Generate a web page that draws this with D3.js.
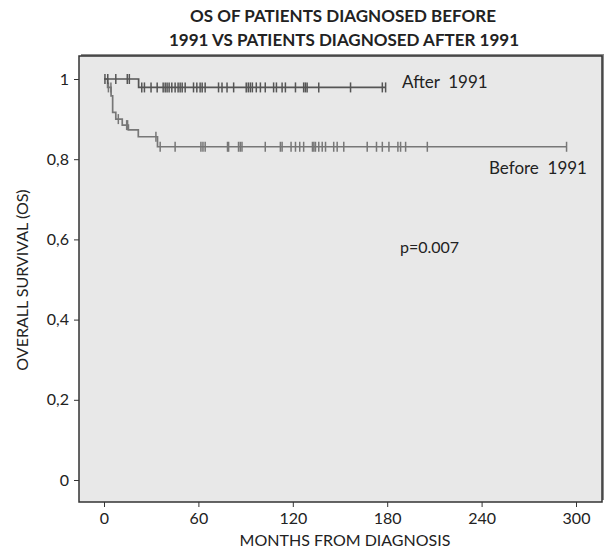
<!DOCTYPE html>
<html>
<head>
<meta charset="utf-8">
<script src="https://cdn.jsdelivr.net/npm/d3@7"></script>
<style>
  body { margin: 0; background: #fff; }
  text { font-family: Lato, "Open Sans", sans-serif; fill: #222; }
</style>
</head>
<body>
<div id="chart"></div>
<script>
// survival steps: month of event, survival after it
const beforeStepMonths = [0, 2.3, 4.5, 5.5, 7.5, 11.6, 15.5, 21.8, 34];
const beforeStepValues = [1, 0.979, 0.958, 0.917, 0.90, 0.885, 0.873, 0.856, 0.831];
const beforeCensored = [2.8, 4.4, 9.1, 14.4, 15.0, 33, 35.7, 45.2, 61.6, 62.9, 64.3, 78.5, 79.2,
  85.5, 86.6, 87.7, 102.5, 112.1, 113.2, 118.9, 121.7, 124.4, 126.9, 132.5, 133.4, 134.4, 136.5,
  138.7, 140.8, 146, 148.2, 152.4, 167.3, 173.2, 176.9, 181.1, 186.8, 188.5, 191.7, 205.5, 294];

const afterStepMonths = [0, 22];
const afterStepValues = [1, 0.979];
const afterCensored = [0.6, 2.4, 7.5, 14.8, 16.1, 24, 25.7, 29.9, 33.8, 37.6, 38.9, 40.1, 41.4, 43.1,
  45.2, 47.1, 48.4, 49.7, 51.6, 56.9, 59, 61.1, 62.4, 64.3, 72.8, 75, 78.2, 82.4, 90.4, 91.7, 93,
  94.3, 96.8, 99.4, 102.5, 107.8, 109.6, 113.2, 115.3, 121.7, 126.9, 128, 129.1, 136.5, 156.7, 176.9, 179];

const xTicks = [0, 60, 120, 180, 240, 300];
const yTicks = [0, 0.2, 0.4, 0.6, 0.8, 1];
const yTickLabels = ["0", "0,2", "0,4", "0,6", "0,8", "1"];

const width = 608, height = 550;
const box = { left: 79, top: 56, right: 602, bottom: 502 };

const svg = d3.select("#chart").append("svg")
    .attr("width", width)
    .attr("height", height);

const x = d3.scaleLinear().domain([0, 300]).range([104, 576]);
const y = d3.scaleLinear().domain([0, 1]).range([480, 79]);

// plot background + frame with a slight shadow
svg.append("rect")
    .attr("x", box.left + 2).attr("y", box.top - 2)
    .attr("width", box.right - box.left).attr("height", box.bottom - box.top)
    .attr("fill", "#8a8a8a");
svg.append("rect")
    .attr("x", box.left).attr("y", box.top)
    .attr("width", box.right - box.left).attr("height", box.bottom - box.top)
    .attr("fill", "#e8e8e8")
    .attr("stroke", "#333").attr("stroke-width", 1.5);

// axes
const xAxis = d3.axisBottom(x).tickValues(xTicks).tickSize(5).tickPadding(6);
const gx = svg.append("g").attr("transform", `translate(0,${box.bottom})`).call(xAxis);
gx.select(".domain").remove();
gx.selectAll("line").attr("stroke", "#333");
gx.selectAll("text").style("font-size", "16px").attr("fill", "#222");

const yAxis = d3.axisLeft(y).tickValues(yTicks).tickSize(5).tickPadding(5)
    .tickFormat((d, i) => yTickLabels[i]);
const gy = svg.append("g").attr("transform", `translate(${box.left},0)`).call(yAxis);
gy.select(".domain").remove();
gy.selectAll("line").attr("stroke", "#333");
gy.selectAll("text").style("font-size", "16px").attr("fill", "#222");

// survival curves
function survivalAt(months, values, t) {
    let s = values[0];
    months.forEach((m, i) => { if (t >= m) s = values[i]; });
    return s;
}

function drawCurve(months, values, censored, color) {
    const end = d3.max(censored);
    const pts = months.map((m, i) => [m, values[i]]);
    pts.push([end, values[values.length - 1]]);
    svg.append("path")
        .attr("d", d3.line().x(d => x(d[0])).y(d => y(d[1])).curve(d3.curveStepAfter)(pts))
        .attr("fill", "none")
        .attr("stroke", color)
        .attr("stroke-width", 1.7);
    svg.append("g").selectAll("line")
        .data(censored)
        .join("line")
        .attr("x1", d => x(d)).attr("x2", d => x(d))
        .attr("y1", d => y(survivalAt(months, values, d)) - 5)
        .attr("y2", d => y(survivalAt(months, values, d)) + 5)
        .attr("stroke", color)
        .attr("stroke-width", 1.5);
}

drawCurve(beforeStepMonths, beforeStepValues, beforeCensored, "#777");
drawCurve(afterStepMonths, afterStepValues, afterCensored, "#555");

// labels
svg.append("text").attr("x", 402).attr("y", 88).style("font-size", "17px")
    .attr("fill", "#222").attr("xml:space", "preserve").text("After  1991");
svg.append("text").attr("x", 587).attr("y", 174).attr("text-anchor", "end").style("font-size", "17px")
    .attr("fill", "#222").attr("xml:space", "preserve").text("Before  1991");
svg.append("text").attr("x", 400).attr("y", 253).style("font-size", "16px")
    .attr("fill", "#222").text("p=0.007");

svg.append("text").attr("x", 343).attr("y", 22).attr("text-anchor", "middle")
    .style("font-size", "17px").style("font-weight", "bold")
    .text("OS OF PATIENTS DIAGNOSED BEFORE");
svg.append("text").attr("x", 344).attr("y", 46).attr("text-anchor", "middle")
    .style("font-size", "17px").style("font-weight", "bold")
    .text("1991 VS PATIENTS DIAGNOSED AFTER 1991");

svg.append("text").attr("x", 345).attr("y", 546).attr("text-anchor", "middle")
    .style("font-size", "16px").text("MONTHS FROM DIAGNOSIS");
svg.append("text").attr("transform", "translate(28,280) rotate(-90)").attr("text-anchor", "middle")
    .style("font-size", "16px").text("OVERALL SURVIVAL (OS)");
</script>
</body>
</html>
